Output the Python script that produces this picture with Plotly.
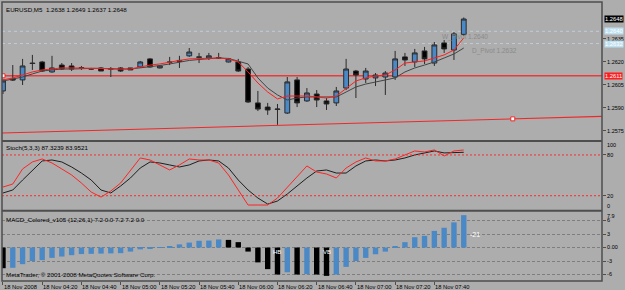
import plotly.graph_objects as go
from plotly.subplots import make_subplots

# ---------------- data ----------------
bars = list(range(48))
time_tick_bars = [0, 4, 8, 12, 16, 20, 24, 28, 32, 36, 40, 44]
time_tick_labels = ["18 Nov 2008", "18 Nov 04:20", "18 Nov 04:40", "18 Nov 05:00",
                    "18 Nov 05:20", "18 Nov 05:40", "18 Nov 06:00", "18 Nov 06:20",
                    "18 Nov 06:40", "18 Nov 07:00", "18 Nov 07:20", "18 Nov 07:40"]

opens = [1.26011, 1.26089, 1.26083, 1.26193, 1.26200, 1.26135, 1.26180, 1.26174,
         1.26161, 1.26156, 1.26161, 1.26156, 1.26161, 1.26161, 1.26167, 1.26220,
         1.26161, 1.26200, 1.26210, 1.26240, 1.26233, 1.26226, 1.26228, 1.26200,
         1.26200, 1.26154, 1.25933, 1.25906, 1.25890, 1.25867, 1.26083, 1.25946,
         1.25991, 1.25946, 1.25933, 1.26030, 1.26141, 1.26089, 1.26096, 1.26102,
         1.26102, 1.26233, 1.26200, 1.26272, 1.26193, 1.26324, 1.26278, 1.2638]
highs = [1.26089, 1.26180, 1.26220, 1.26246, 1.26207, 1.26240, 1.26193, 1.26193,
         1.26174, 1.26161, 1.26167, 1.26167, 1.26167, 1.26161, 1.26207, 1.26226,
         1.26180, 1.26233, 1.26240, 1.26291, 1.26259, 1.26259, 1.26259, 1.26226,
         1.26220, 1.26167, 1.26011, 1.25933, 1.25926, 1.26102, 1.26102, 1.26030,
         1.26017, 1.25965, 1.26037, 1.26220, 1.26148, 1.26161, 1.26128, 1.26141,
         1.26272, 1.26259, 1.26285, 1.26298, 1.26330, 1.26343, 1.26396, 1.2649]
lows = [1.25991, 1.26076, 1.26050, 1.26148, 1.26135, 1.26130, 1.26148, 1.26141,
        1.26148, 1.26150, 1.26141, 1.26102, 1.26135, 1.26148, 1.26161, 1.26164,
        1.26158, 1.26180, 1.26161, 1.26233, 1.26193, 1.26213, 1.26220, 1.26197,
        1.26135, 1.25933, 1.25880, 1.25855, 1.25790, 1.25861, 1.25906, 1.25940,
        1.25906, 1.25887, 1.25913, 1.26017, 1.25965, 1.26063, 1.26043, 1.25985,
        1.26083, 1.26174, 1.26167, 1.26187, 1.26174, 1.26259, 1.26213, 1.2637]
closes = [1.26076, 1.26083, 1.26174, 1.26190, 1.26141, 1.26161, 1.26154, 1.26154,
          1.26163, 1.26154, 1.26141, 1.26154, 1.26141, 1.26148, 1.26200, 1.26167,
          1.26174, 1.26198, 1.26205, 1.26265, 1.26231, 1.26240, 1.26226, 1.26220,
          1.26141, 1.25939, 1.25893, 1.25887, 1.25893, 1.26070, 1.25933, 1.25998,
          1.25952, 1.25926, 1.26011, 1.26154, 1.26115, 1.26141, 1.26115, 1.26128,
          1.26220, 1.26213, 1.26259, 1.26220, 1.26311, 1.26285, 1.26383, 1.2648]

ma_fast = [1.26083, 1.26096, 1.26115, 1.26135, 1.26148, 1.26154, 1.26161, 1.26161,
           1.26161, 1.26158, 1.26158, 1.26154, 1.26154, 1.26154, 1.26167, 1.26180,
           1.26187, 1.26200, 1.26210, 1.26220, 1.26223, 1.26226, 1.26226, 1.26220,
           1.26200, 1.26135, 1.26063, 1.26004, 1.25959, 1.25978, 1.25978, 1.25978,
           1.25972, 1.25965, 1.25978, 1.26030, 1.26076, 1.26096, 1.26109, 1.26115,
           1.26148, 1.26193, 1.26200, 1.26207, 1.26226, 1.26246, 1.26278, 1.26357]
ma_slow = [1.26076, 1.26089, 1.26102, 1.26122, 1.26141, 1.26148, 1.26154, 1.26154,
           1.26158, 1.26158, 1.26158, 1.26154, 1.26154, 1.26154, 1.26161, 1.26167,
           1.26177, 1.26187, 1.26200, 1.26210, 1.26216, 1.26223, 1.26226, 1.26223,
           1.26207, 1.26187, 1.26096, 1.26030, 1.25985, 1.25952, 1.25965, 1.25972,
           1.25972, 1.25972, 1.25972, 1.26004, 1.26037, 1.26056, 1.26070, 1.26083,
           1.26096, 1.26135, 1.26161, 1.26180, 1.26200, 1.26226, 1.26252, 1.26291]

stoch_main = [32.8, 37.2, 59.4, 69.7, 74.1, 68.2, 59.4, 50.5, 38.7, 25.4, 18.0, 26.9,
              38.7, 57.9, 75.6, 72.6, 65.3, 57.9, 65.3, 74.1, 72.6, 72.6, 68.2, 50.5,
              28.4, 6.3, 6.3, 6.3, 16.6, 32.8, 47.5, 63.8, 54.9, 52.0, 46.1, 60.8,
              69.7, 75.6, 71.2, 71.2, 74.1, 80.0, 85.9, 84.4, 87.4, 78.5, 85.9, 87.3239]
stoch_signal = [24.0, 28.4, 43.1, 57.9, 71.2, 72.6, 69.7, 62.3, 53.4, 43.1, 28.4, 24.0,
                34.3, 46.1, 60.8, 69.7, 68.2, 65.3, 62.3, 65.3, 71.2, 72.6, 71.2, 60.8,
                43.1, 28.4, 16.6, 7.7, 12.2, 22.5, 34.3, 46.1, 56.4, 57.9, 53.4, 53.4,
                63.8, 71.2, 72.6, 71.2, 72.6, 75.6, 80.0, 83.0, 85.9, 83.0, 83.0, 83.9521]

macd_hist = [-4.6, -4.5, -3.7, -3.0, -2.8, -2.3, -2.0, -1.7, -1.45, -1.4, -1.35, -1.3,
             -1.25, -0.9, -0.4, -0.2, 0.1, 0.3, 0.7, 1.1, 1.5, 1.55, 1.8, 1.7,
             1.2, -0.9, -3.3, -4.8, -6.0, -5.5, -6.0, -5.9, -6.0, -6.3, -6.0, -4.3,
             -3.0, -2.3, -1.5, -0.9, 0.3, 1.2, 2.3, 2.6, 3.7, 4.4, 5.6, 7.2]

price_ticks = [1.2635, 1.2620, 1.2605, 1.2590, 1.2575]
w_pivot = 1.2640
d_pivot = 1.2632
level_line = 1.2611
trend_x = [-0.3, 52.0, 61.1]
trend_y = [1.25737, 1.25829, 1.25845]
trend_marker_index = 1
stoch_levels = [80, 20]
macd_ticks = [6, 3, 0, -3, -6]
macd_tick_text = ["6", "3", "0.00", "-3", "-6"]
macd_top_label = 7.9
macd_marks = [(28, "HB"), (33, "VB")]
macd_note = "-21"
macd_title = "MACD_Colored_v105 (12,26,1) 7.2 0.0 7.2 7.2 0.0"
copyright_text = "MetaTrader, \u00a9 2001-2008 MetaQuotes Software Corp."

# ---------------- styles ----------------
BG = "#adadad"
BLUE = "#4b89c6"
FRAME = "#4e4e4e"
FONT = "Liberation Sans"

fig = make_subplots(rows=3, cols=1, shared_xaxes=True, vertical_spacing=0)

fig.add_trace(go.Candlestick(
    x=bars, open=opens, high=highs, low=lows, close=closes,
    increasing=dict(fillcolor=BLUE, line=dict(color="#2a2a2a", width=1)),
    decreasing=dict(fillcolor="#000000", line=dict(color="#2a2a2a", width=1)),
    whiskerwidth=0, showlegend=False, hoverinfo="skip"), row=1, col=1)

fig.add_trace(go.Scatter(x=bars, y=ma_slow, mode="lines",
                         line=dict(color="#444444", width=1), hoverinfo="skip"), row=1, col=1)
fig.add_trace(go.Scatter(x=bars, y=ma_fast, mode="lines",
                         line=dict(color="#ff1e1e", width=1), hoverinfo="skip"), row=1, col=1)

# trend line
fig.add_trace(go.Scatter(x=trend_x, y=trend_y, mode="lines",
                         line=dict(color="#f02828", width=1.1), hoverinfo="skip"), row=1, col=1)
fig.add_trace(go.Scatter(x=[trend_x[trend_marker_index], bars[0]],
                         y=[trend_y[trend_marker_index], level_line], mode="markers",
                         marker=dict(symbol="square", size=4, color="white",
                                     line=dict(color="#f02828", width=1)),
                         hoverinfo="skip"), row=1, col=1)

# stochastic
fig.add_trace(go.Scatter(x=bars, y=stoch_signal, mode="lines",
                         line=dict(color="#1e1e1e", width=1), hoverinfo="skip"), row=2, col=1)
fig.add_trace(go.Scatter(x=bars, y=stoch_main, mode="lines",
                         line=dict(color="#ff2424", width=1), hoverinfo="skip"), row=2, col=1)

# MACD histogram
macd_colors = ["#000000"] + [BLUE if macd_hist[i] > macd_hist[i - 1] else "#000000"
                             for i in range(1, len(macd_hist))]
fig.add_trace(go.Bar(x=bars, y=macd_hist, marker=dict(color=macd_colors, line=dict(width=0)),
                     width=0.55, hoverinfo="skip"), row=3, col=1)

# ---------------- layout ----------------
fig.update_layout(
    width=625, height=290, template="none",
    margin=dict(l=2, r=23, t=2, b=9),
    paper_bgcolor=BG, plot_bgcolor=BG, showlegend=False, hovermode=False,
    font=dict(family=FONT, size=6, color="#000000"),
)
fig.update_xaxes(range=[-0.1, 61.1], showgrid=False, zeroline=False,
                 showticklabels=False, ticks="", showline=False)
fig.update_layout(xaxis=dict(rangeslider=dict(visible=False)))
fig.update_xaxes(ticks="outside", tickvals=time_tick_bars, ticklen=3, tickcolor=FRAME,
                 row=3, col=1)

fig.update_layout(
    yaxis=dict(domain=[0.5036, 1.0], range=[1.25688, 1.26591], side="right",
               tickvals=price_ticks, ticktext=[f"{v:.4f}" for v in price_ticks],
               ticks="outside", ticklen=3, tickcolor=FRAME, showgrid=False,
               zeroline=False, automargin=False, tickfont=dict(size=5.5)),
    yaxis2=dict(domain=[0.257, 0.5004], range=[0, 100], side="right",
                tickvals=stoch_levels, ticktext=[str(v) for v in stoch_levels],
                ticks="outside", ticklen=3, tickcolor=FRAME, showgrid=False,
                zeroline=False, automargin=False, tickfont=dict(size=5.5)),
    yaxis3=dict(domain=[0.0, 0.2473], range=[-7.44, 7.9], side="right",
                tickvals=macd_ticks, ticktext=macd_tick_text,
                ticks="outside", ticklen=3, tickcolor=FRAME, showgrid=True,
                gridcolor="#7e7e7e", griddash="3px,2px", gridwidth=1,
                zeroline=False, automargin=False, tickfont=dict(size=5.5)),
)

shapes = []
# pivot dashed lines and level line
for v in [w_pivot, d_pivot]:
    shapes.append(dict(type="line", xref="paper", x0=0, x1=1, yref="y", y0=v, y1=v,
                       line=dict(color="#c2d7e3", width=0.8, dash="3px,3px"), layer="below"))
shapes.append(dict(type="line", xref="paper", x0=0, x1=1, yref="y", y0=level_line,
                   y1=level_line, line=dict(color="#ec3a3a", width=1.6), layer="below"))
for v in stoch_levels:
    shapes.append(dict(type="line", xref="paper", x0=0, x1=1, yref="y2", y0=v, y1=v,
                       line=dict(color="#ff2a2a", width=1, dash="2px,2px")))
# frame and separators
shapes.append(dict(type="rect", xref="paper", yref="paper", x0=0, x1=1, y0=0, y1=1,
                   line=dict(color=FRAME, width=1.5)))
for yy in [0.5016, 0.2516]:
    shapes.append(dict(type="line", xref="paper", yref="paper", x0=0, x1=1, y0=yy, y1=yy,
                       line=dict(color=FRAME, width=2)))
fig.update_layout(shapes=shapes)

ann = []
ann.append(dict(text=f"EURUSD,M5  {opens[-1]:.4f} {highs[-1]:.4f} {lows[-1]:.4f} {closes[-1]:.4f}",
                xref="paper", x=0, xanchor="left", xshift=2, yref="y domain", y=1,
                yanchor="top", yshift=-2, showarrow=False, font=dict(size=6.2)))
ann.append(dict(text=f"Stoch(5,3,3) {stoch_main[-1]:.4f} {stoch_signal[-1]:.4f}",
                xref="paper", x=0, xanchor="left", xshift=2, yref="y2 domain", y=1,
                yanchor="top", yshift=-1, showarrow=False, font=dict(size=6.2)))
ann.append(dict(text=macd_title, xref="paper", x=0, xanchor="left", xshift=2,
                yref="y3 domain", y=1, yanchor="top", yshift=-2, showarrow=False,
                font=dict(size=6.2)))
ann.append(dict(text=copyright_text, xref="paper", x=0, xanchor="left", xshift=2,
                yref="y3 domain", y=0, yanchor="bottom", yshift=1, showarrow=False,
                font=dict(size=6.2)))
# pivot texts
ann.append(dict(text=f"W_Pivot {w_pivot:.4f}", xref="x", x=44.6, xanchor="left",
                yref="y", y=w_pivot, yanchor="top", yshift=0, showarrow=False,
                font=dict(size=6.5, color="#8a8a8a")))
ann.append(dict(text=f"D_Pivot {d_pivot:.4f}", xref="x", x=47.6, xanchor="left",
                yref="y", y=d_pivot, yanchor="top", yshift=-1, showarrow=False,
                font=dict(size=6.5, color="#8a8a8a")))
# right-side price boxes
for v, bg, fc in [(closes[-1], "#000000", "#ffffff"), (w_pivot, "#bfe0ef", "#ffffff"),
                  (d_pivot, "#bfe0ef", "#ffffff"), (level_line, "#ff1c1c", "#ffffff")]:
    ann.append(dict(text=f"{v:.4f}", xref="paper", x=1, xanchor="left", xshift=2,
                    yref="y", y=v, yanchor="middle", showarrow=False, bgcolor=bg,
                    borderpad=0, font=dict(size=5.8, color=fc)))
# stoch 100 / 0 labels
ann.append(dict(text="100", xref="paper", x=1, xanchor="left", xshift=3, yref="y2", y=100,
                yanchor="middle", yshift=-4, showarrow=False, font=dict(size=5.5)))
ann.append(dict(text="0", xref="paper", x=1, xanchor="left", xshift=3, yref="y2", y=0,
                yanchor="middle", yshift=3, showarrow=False, font=dict(size=5.5)))
ann.append(dict(text=f"{macd_top_label}", xref="paper", x=1, xanchor="left", xshift=3,
                yref="y3", y=macd_top_label, yanchor="middle", yshift=-4, showarrow=False,
                font=dict(size=5.5)))
for b, t in macd_marks:
    ann.append(dict(text=t, xref="x3", x=b, xanchor="center", yref="y3", y=0,
                    yanchor="middle", yshift=-4, showarrow=False,
                    font=dict(size=6, color="#ffffff")))
ann.append(dict(text=macd_note, xref="x3", x=bars[-1], xanchor="left", xshift=4,
                yref="y3", y=3, yanchor="middle", showarrow=False,
                font=dict(size=7, color="#ffffff")))
# time labels
for b, t in zip(time_tick_bars, time_tick_labels):
    ann.append(dict(text=t, xref="x3", x=b, xanchor="left", xshift=-1, yref="paper", y=0,
                    yanchor="top", yshift=-1, showarrow=False, font=dict(size=5.8)))
fig.update_layout(annotations=ann)

fig.write_html("out.html")
